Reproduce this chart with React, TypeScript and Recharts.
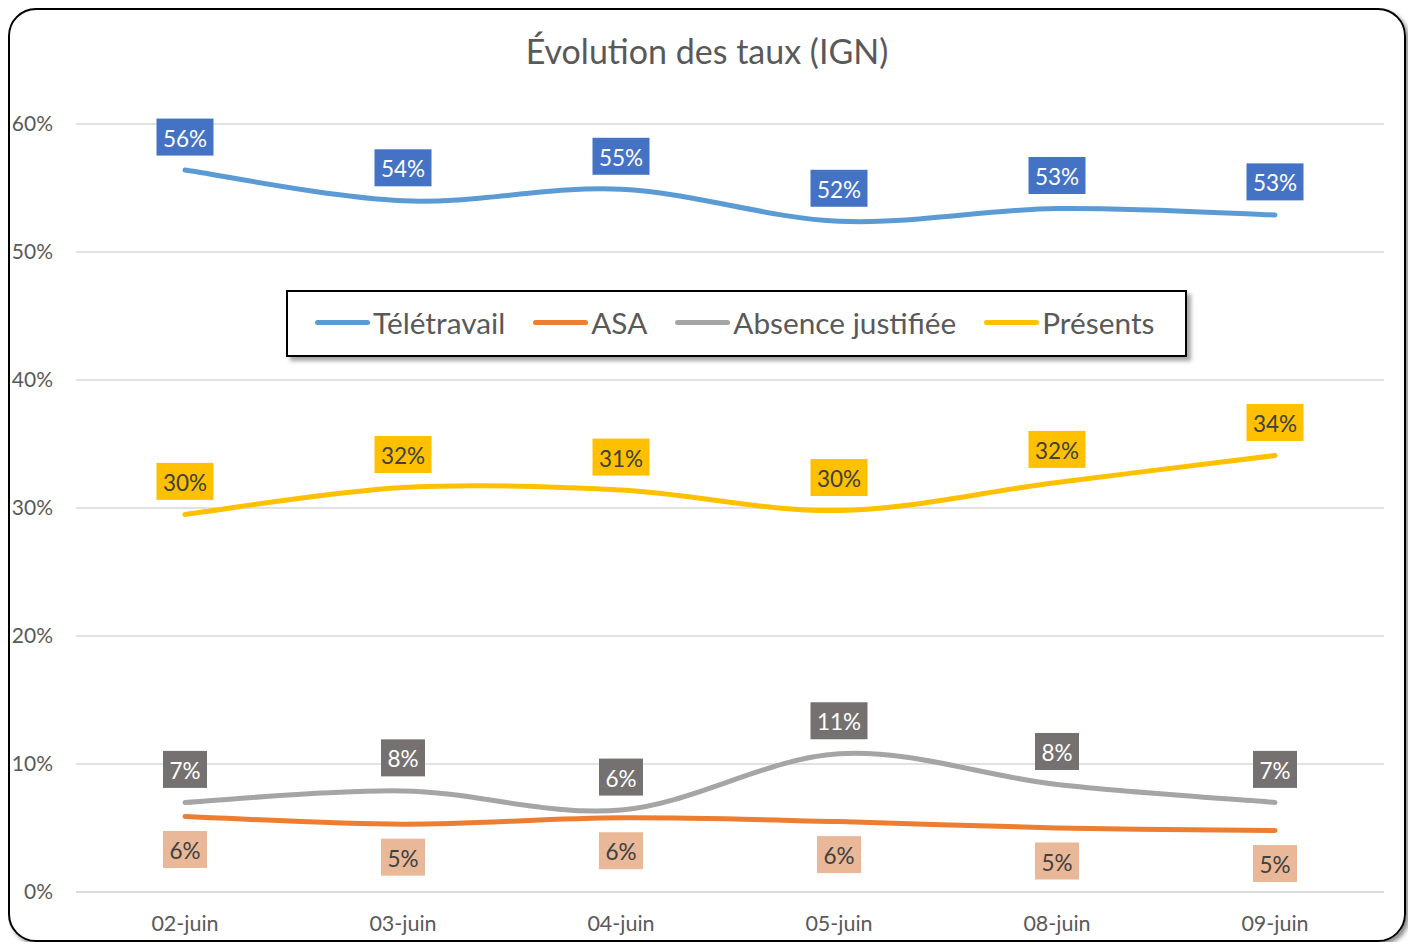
import { CartesianGrid, LabelList, Legend, Line, LineChart, XAxis, YAxis } from 'recharts'

const days = ['02-juin', '03-juin', '04-juin', '05-juin', '08-juin', '09-juin']
const teletravail = [0.564, 0.54, 0.549, 0.524, 0.534, 0.529]
const asa = [0.059, 0.053, 0.058, 0.055, 0.05, 0.048]
const absence = [0.07, 0.079, 0.064, 0.108, 0.084, 0.07]
const presents = [0.295, 0.316, 0.314, 0.298, 0.32, 0.341]
const yTicks = [0, 0.1, 0.2, 0.3, 0.4, 0.5, 0.6]

const FONT = 'Lato, "Open Sans", sans-serif'
const TEXT = '#595959'

const series = [
  { key: 'teletravail', name: 'Télétravail', color: '#5B9BD5', box: '#4472C4', ink: '#ffffff', below: false },
  { key: 'asa', name: 'ASA', color: '#ED7D31', box: '#E8B898', ink: '#404040', below: true },
  { key: 'absence', name: 'Absence justifiée', color: '#A5A5A5', box: '#767171', ink: '#ffffff', below: false },
  { key: 'presents', name: 'Présents', color: '#FFC000', box: '#FFC000', ink: '#404040', below: false },
]

const rows = days.map((day, i) => ({
  day,
  teletravail: teletravail[i],
  asa: asa[i],
  absence: absence[i],
  presents: presents[i],
}))

const pct = (v: number) => `${Math.round(v * 100)}%`

// Excel-like smoothed line (Catmull-Rom through every point)
function smoothCurve(context: any) {
  let pts: number[][] = []
  return {
    areaStart() {},
    areaEnd() {},
    lineStart() {
      pts = []
    },
    point(x: number, y: number) {
      pts.push([+x, +y])
    },
    lineEnd() {
      if (!pts.length) return
      context.moveTo(pts[0][0], pts[0][1])
      for (let i = 0; i < pts.length - 1; i++) {
        const p0 = pts[i - 1] || pts[i]
        const p1 = pts[i]
        const p2 = pts[i + 1]
        const p3 = pts[i + 2] || p2
        const t = 1 / 6
        context.bezierCurveTo(
          p1[0] + (p2[0] - p0[0]) * t,
          p1[1] + (p2[1] - p0[1]) * t,
          p2[0] - (p3[0] - p1[0]) * t,
          p2[1] - (p3[1] - p1[1]) * t,
          p2[0],
          p2[1],
        )
      }
    },
  }
}

function boxLabel(box: string, ink: string, below: boolean) {
  return (props: any) => {
    const { x, y, value } = props
    const text = pct(value)
    const w = text.length * 13 + 18
    const h = 37
    const cy = below ? y + 33 : y - 33
    return (
      <g>
        <rect x={x - w / 2} y={cy - h / 2} width={w} height={h} fill={box} />
        <text
          x={x}
          y={cy + 1}
          textAnchor="middle"
          dominantBaseline="central"
          fill={ink}
          fontSize={22.5}
          fontFamily={FONT}
        >
          {text}
        </text>
      </g>
    )
  }
}

function LegendBox() {
  return (
    <div
      style={{
        width: 901,
        height: 67,
        border: '2px solid #000',
        background: '#fff',
        boxShadow: '4px 4px 4px rgba(0,0,0,0.35)',
        display: 'flex',
        alignItems: 'center',
        paddingLeft: 27,
        paddingBottom: 3,
        boxSizing: 'border-box',
        fontFamily: FONT,
        fontSize: 29.8,
        color: TEXT,
        whiteSpace: 'nowrap',
      }}
    >
      {series.map((s) => (
        <span key={s.key} style={{ display: 'flex', alignItems: 'center', marginRight: 28 }}>
          <span
            style={{
              width: 55,
              height: 5,
              borderRadius: 3,
              background: s.color,
              marginRight: 3,
            }}
          />
          {s.name}
        </span>
      ))}
    </div>
  )
}

export default function App() {
  return (
    <div style={{ position: 'relative', width: 1398, height: 934 }}>
      <LineChart
        width={1398}
        height={934}
        data={rows}
        margin={{ top: 116, right: 22, bottom: 0, left: 0 }}
      >
        <CartesianGrid vertical={false} stroke="#D9D9D9" strokeWidth={1.5} />
        <XAxis
          dataKey="day"
          scale="band"
          axisLine={{ stroke: '#D9D9D9', strokeWidth: 1.5 }}
          tickLine={false}
          height={50}
          tickMargin={18}
          tick={{ fill: TEXT, fontSize: 21.5, fontFamily: FONT }}
        />
        <YAxis
          domain={[0, 0.6]}
          ticks={yTicks}
          tickFormatter={pct}
          axisLine={false}
          tickLine={false}
          width={68}
          tickMargin={17}
          tick={{ fill: TEXT, fontSize: 21, fontFamily: FONT }}
        />
        <Legend
          layout="horizontal"
          verticalAlign="middle"
          align="center"
          wrapperStyle={{ left: 278, top: 282, width: 901 }}
          content={() => <LegendBox />}
        />
        {series.map((s) => (
          <Line
            key={s.key}
            dataKey={s.key}
            name={s.name}
            type={smoothCurve as any}
            stroke={s.color}
            strokeWidth={5}
            strokeLinecap="round"
            dot={false}
            activeDot={false}
            isAnimationActive={false}
          >
            <LabelList dataKey={s.key} content={boxLabel(s.box, s.ink, s.below)} />
          </Line>
        ))}
      </LineChart>
      <div
        style={{
          position: 'absolute',
          left: 0,
          top: 22,
          width: 1398,
          textAlign: 'center',
          fontFamily: FONT,
          fontSize: 34,
          color: TEXT,
          pointerEvents: 'none',
        }}
      >
        Évolution des taux (IGN)
      </div>
      <div
        style={{
          position: 'absolute',
          inset: 0,
          border: '2px solid #000',
          borderRadius: 28,
          boxShadow: '3px 3px 4px rgba(0,0,0,0.45)',
          pointerEvents: 'none',
        }}
      />
    </div>
  )
}
